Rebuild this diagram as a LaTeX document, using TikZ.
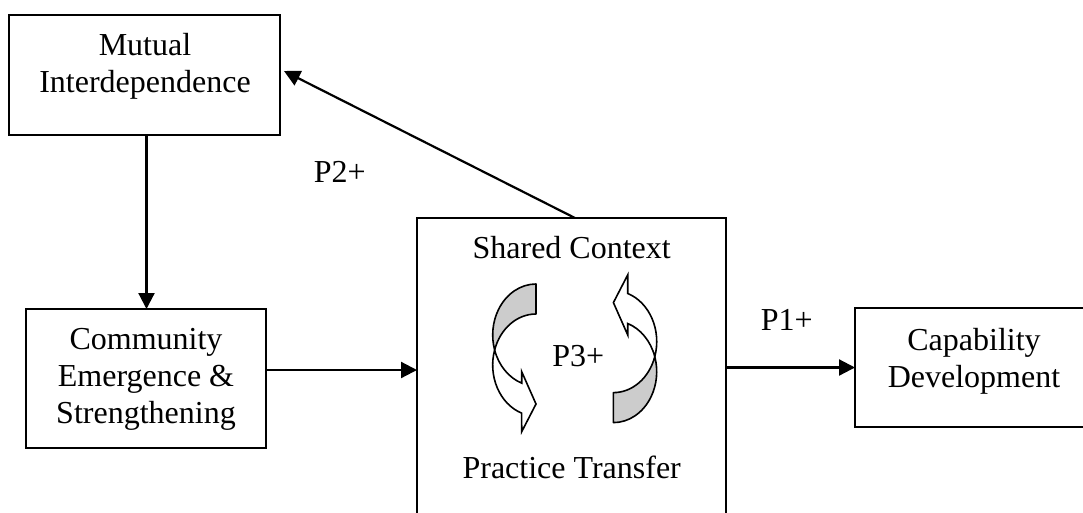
\documentclass[tikz,border=0pt]{standalone}
\usepackage{fontspec}
\setmainfont{Liberation Serif}
\usetikzlibrary{arrows.meta}
\begin{document}
\begin{tikzpicture}[x=1pt,y=1pt,
  box/.style={draw,line width=2.2pt,inner sep=0pt,outer sep=0pt},
  txt/.style={font=\fontsize{32}{37}\selectfont,align=center,inner sep=0pt},
  arr/.style={line width=2.2pt,-{Triangle[length=16pt,width=16pt]}},
  curvarr/.pic={
    \filldraw[fill=gray!40,line width=1.6pt,line join=round]
      (-38.7,69.3) arc[start angle=90,end angle=197.1,x radius=43.3pt,y radius=51pt]
      arc[start angle=162.9,end angle=90,x radius=43.3pt,y radius=51pt] -- cycle;
    \filldraw[fill=white,line width=1.6pt,line join=miter]
      (-80.1,3.3) arc[start angle=162.9,end angle=250.7,x radius=43.3pt,y radius=51pt]
      -- (-53,-78.4) -- (-38.7,-50.7) -- (-53,-18.4) -- (-53,-29.8)
      arc[start angle=250.7,end angle=197.1,x radius=43.3pt,y radius=51pt] -- cycle;
  }]
\useasboundingbox (0,0) rectangle (1083,-512);
\clip (0,0) rectangle (1083,-512);
% boxes
\node[box,minimum width=271pt,minimum height=120pt] (mi) at (144.5,-75) {};
\node[box,minimum width=240pt,minimum height=139pt] (ce) at (146,-378.5) {};
\node[box,minimum width=309pt,minimum height=342pt] (sc) at (571.5,-389) {};
\node[box,minimum width=245pt,minimum height=119pt] (cd) at (977.5,-367.5) {};
% texts
\node[txt] (mit) at (145,-66.5) {Mutual\\Interdependence};
\node[txt] (cet) at (146,-379.3) {Community\\Emergence \&\\Strengthening};
\node[txt] (cdt) at (974,-360.9) {Capability\\Development};
\node[txt,anchor=base] (sct) at (571.7,-258.3) {Shared Context};
\node[txt,anchor=base] (ptt) at (571.7,-478.3) {Practice Transfer};
\node[txt,anchor=base] (p3) at (578.3,-366.7) {P3+};
\node[txt,anchor=base] (p2) at (339.7,-182.7) {P2+};
\node[txt,anchor=base] (p1) at (786.7,-330) {P1+};
% curved arrows
\pic at (574.7,-353.3) {curvarr};
\pic[rotate=180] at (574.7,-353.3) {curvarr};
% connectors
\draw[arr] ([xshift=2pt]mi.south) -- ([xshift=2pt]mi.south |- ce.north);
\draw[arr] ([yshift=8.5pt]ce.east) -- ([yshift=8.5pt]ce.east -| sc.west);
\draw[arr] (cd.west -| sc.east) -- (cd.west);
\draw[arr] ([xshift=3.5pt]sc.north) -- ([xshift=4pt,yshift=4pt]mi.east);
\end{tikzpicture}
\end{document}
